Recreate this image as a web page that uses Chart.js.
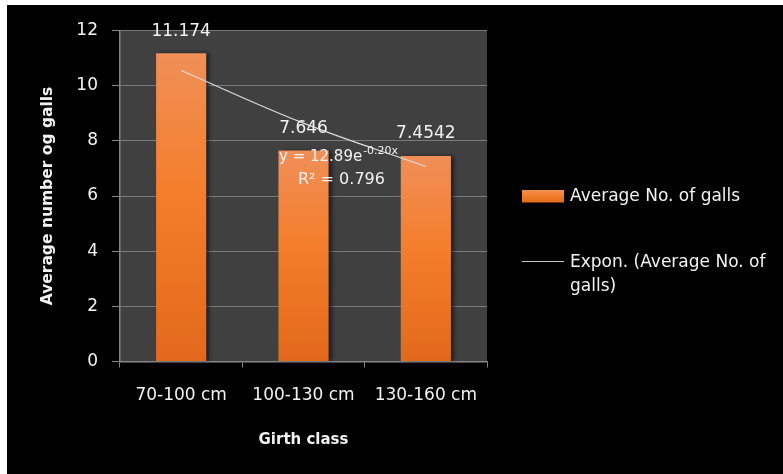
<!DOCTYPE html>
<html>
<head>
<meta charset="utf-8">
<script src="https://cdn.jsdelivr.net/npm/chart.js@4/dist/chart.umd.min.js"></script>
<style>
  html, body { margin: 0; padding: 0; background: #ffffff; }
  #wrap { position: absolute; left: 7px; top: 5px; width: 776px; height: 469px; }
  canvas { display: block; }
</style>
</head>
<body>
<div id="wrap"><canvas id="c" width="776" height="469"></canvas></div>
<script>
const categories = ['70-100 cm', '100-130 cm', '130-160 cm'];
const avgGalls = [11.174, 7.646, 7.4542];
const avgGallsLabels = ['11.174', '7.646', '7.4542'];
const trendValues = [10.55, 8.64, 7.07];
const yMin = 0, yMax = 12, yStep = 2;
const seriesName = 'Average No. of galls';
const trendName = 'Expon. (Average No. of galls)';
const trendLegendLines = ['Expon. (Average No. of', 'galls)'];
const equationMain = 'y = 12.89e';
const equationExp = '-0.20x';
const equationR2 = 'R\u00B2 = 0.796';
const xTitle = 'Girth class';
const yTitle = 'Average number og galls';

const FONT = "'DejaVu Sans', sans-serif";
const TEXT = '#f2f2f2';

function barGradient(ctx, top, bottom) {
  const g = ctx.createLinearGradient(0, top, 0, bottom);
  g.addColorStop(0, '#f08f58');
  g.addColorStop(0.45, '#f47e2b');
  g.addColorStop(1, '#e2691b');
  return g;
}

const decor = {
  id: 'decor',
  beforeDraw(chart) {
    const { ctx, chartArea: a } = chart;
    ctx.save();
    ctx.fillStyle = '#000000';
    ctx.fillRect(0, 0, chart.width, chart.height);
    ctx.fillStyle = '#404040';
    ctx.fillRect(a.left, a.top, a.right - a.left, a.bottom - a.top);
    ctx.restore();
  },
  beforeDatasetDraw(chart, args) {
    if (args.index === 0) {
      const ctx = chart.ctx;
      ctx.save();
      ctx.shadowColor = 'rgba(0,0,0,0.55)';
      ctx.shadowOffsetX = 3;
      ctx.shadowOffsetY = 0;
      ctx.shadowBlur = 4;
    }
  },
  afterDatasetDraw(chart, args) {
    if (args.index === 0) chart.ctx.restore();
  },
  afterDatasetsDraw(chart) {
    const { ctx } = chart;
    const meta = chart.getDatasetMeta(0);
    ctx.save();
    ctx.fillStyle = TEXT;
    ctx.textAlign = 'center';
    ctx.textBaseline = 'middle';
    ctx.font = '17px ' + FONT;
    meta.data.forEach((bar, i) => {
      ctx.fillText(avgGallsLabels[i], bar.x, bar.y - 22);
    });
    // trendline equation
    ctx.textAlign = 'left';
    ctx.font = '15px ' + FONT;
    const eqX = 272, eqY = 151.7;
    ctx.fillText(equationMain, eqX, eqY);
    const w = ctx.measureText(equationMain).width;
    ctx.font = '11px ' + FONT;
    ctx.fillText(equationExp, eqX + w + 1, eqY - 6);
    ctx.font = '16px ' + FONT;
    ctx.fillText(equationR2, 291, 175);
    ctx.restore();
  },
  afterDraw(chart) {
    const { ctx } = chart;
    ctx.save();
    // legend: bar series
    ctx.fillStyle = barGradient(ctx, 185, 197.5);
    ctx.fillRect(515, 185, 42, 12.5);
    ctx.fillStyle = TEXT;
    ctx.font = '17px ' + FONT;
    ctx.textAlign = 'left';
    ctx.textBaseline = 'middle';
    ctx.fillText(seriesName, 563, 192);
    // legend: trendline
    ctx.strokeStyle = '#c8c8c8';
    ctx.lineWidth = 1.2;
    ctx.beginPath();
    ctx.moveTo(515, 256.5);
    ctx.lineTo(557, 256.5);
    ctx.stroke();
    ctx.fillText(trendLegendLines[0], 563, 257.5);
    ctx.fillText(trendLegendLines[1], 563, 282);
    ctx.restore();
  }
};

new Chart(document.getElementById('c'), {
  type: 'bar',
  data: {
    labels: categories,
    datasets: [
      {
        type: 'bar',
        label: seriesName,
        data: avgGalls,
        order: 2,
        categoryPercentage: 1,
        barPercentage: 0.41,
        borderWidth: 0,
        backgroundColor: (c) => {
          const chart = c.chart;
          if (!chart.chartArea || c.type !== 'data') return '#f47e2b';
          const ys = chart.scales.y;
          return barGradient(chart.ctx, ys.getPixelForValue(c.raw), ys.getPixelForValue(0));
        }
      },
      {
        type: 'line',
        label: trendName,
        data: trendValues,
        order: 1,
        borderColor: '#dcdcdc',
        borderWidth: 1.2,
        pointRadius: 0,
        tension: 0.4,
        fill: false
      }
    ]
  },
  options: {
    responsive: false,
    devicePixelRatio: 1,
    animation: false,
    layout: { padding: { top: 25.5, right: 296, bottom: 0, left: 0 } },
    plugins: {
      legend: { display: false },
      tooltip: { enabled: false }
    },
    scales: {
      x: {
        offset: true,
        grid: { display: true, drawOnChartArea: false, drawTicks: true, tickLength: 6, color: '#868686', offset: true },
        border: { display: true, color: '#868686', width: 1.5 },
        ticks: { color: TEXT, font: { family: FONT, size: 17 }, padding: 17.5, maxRotation: 0 },
        title: { display: true, text: xTitle, color: TEXT, font: { family: FONT, size: 15, weight: 'bold' }, padding: { top: 0, bottom: 25 } },
        afterFit(scale) { scale.height = 112.5; }
      },
      y: {
        min: yMin,
        max: yMax,
        ticks: { stepSize: yStep, color: TEXT, font: { family: FONT, size: 17 }, padding: 14 },
        grid: { color: '#7a7a7a', lineWidth: 1, drawTicks: true, tickLength: 8, tickColor: '#868686' },
        border: { display: true, color: '#868686', width: 1.5 },
        title: { display: true, text: yTitle, color: TEXT, font: { family: FONT, size: 15.5, weight: 'bold' }, padding: { top: 31.7, bottom: 0 } },
        afterFit(scale) { scale.width = 113; }
      }
    }
  },
  plugins: [decor]
});
</script>
</body>
</html>
